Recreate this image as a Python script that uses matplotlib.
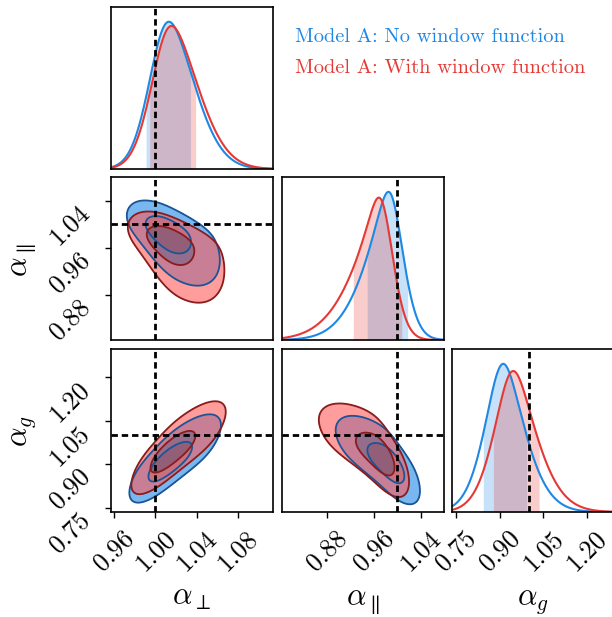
import numpy as np
import matplotlib as mpl
import matplotlib.pyplot as plt

mpl.rcParams['font.family'] = 'serif'
mpl.rcParams['font.serif'] = ['cmr10', 'DejaVu Serif']
mpl.rcParams['mathtext.fontset'] = 'cm'
mpl.rcParams['axes.formatter.use_mathtext'] = True

# parameters, truth and axis layout
labels = [r'$\alpha_\perp$', r'$\alpha_\parallel$', r'$\alpha_g$']
truth = [1.0, 1.0, 1.0]
extents = [(0.957, 1.114), (0.803, 1.080), (0.735, 1.298)]
tick_vals = [[0.96, 1.00, 1.04, 1.08], [0.88, 0.96, 1.04], [0.75, 0.90, 1.05, 1.20]]
tick_text = [['0.96', '1.00', '1.04', '1.08'], ['0.88', '0.96', '1.04'], ['0.75', '0.90', '1.05', '1.20']]

chain_names = ['Model A: No window function', 'Model A: With window function']

# posterior shapes (sinh-arcsinh marginals + latent correlations)
# per parameter: location (peak), scale, skew, tail weight; corr = (perp,par), (perp,g), (par,g)
blue_loc = [1.013, 0.9855, 0.912]
blue_scale = [0.0205, 0.027, 0.059]
blue_skew = [0.18, -0.30, 0.10]
blue_tail = [0.95, 0.85, 0.85]
blue_corr = [-0.60, 0.80, -0.74]
blue_band = [(0.991, 1.034), (0.9486, 1.0179), (0.843, 0.993)]

red_loc = [1.0155, 0.9697, 0.9465]
red_scale = [0.0211, 0.028, 0.062]
red_skew = [0.20, -0.40, 0.12]
red_tail = [0.95, 0.85, 0.85]
red_corr = [-0.56, 0.82, -0.72]
red_band = [(0.9945, 1.039), (0.9248, 1.0077), (0.878, 1.036)]

chains = [
    dict(loc=blue_loc, scale=blue_scale, skew=blue_skew, tail=blue_tail, corr=blue_corr,
         band=blue_band, line='#1E88E5', fill=['#1E88E5', '#1A4F8F'], edge='#1B5597'),
    dict(loc=red_loc, scale=red_scale, skew=red_skew, tail=red_tail, corr=red_corr,
         band=red_band, line='#E53935', fill=['#FF5A5A', '#A83A4A'], edge='#8B1C1C'),
]
pair_index = {(0, 1): 0, (0, 2): 1, (1, 2): 2}


def sas(x, c, k):
    y = (x - c['loc'][k]) / c['scale'][k]
    u = c['tail'][k] * np.arcsinh(y) - c['skew'][k]
    return np.sinh(u), c['tail'][k] * np.cosh(u) / (c['scale'][k] * np.sqrt(1.0 + y ** 2))


def pdf_1d(x, c, k):
    z, dz = sas(x, c, k)
    return np.exp(-0.5 * z ** 2) / np.sqrt(2 * np.pi) * dz


def pdf_2d(xx, yy, c, kx, ky):
    zx, dx = sas(xx, c, kx)
    zy, dy = sas(yy, c, ky)
    rho = c['corr'][pair_index[(kx, ky)]]
    q = (zx ** 2 - 2 * rho * zx * zy + zy ** 2) / (1 - rho ** 2)
    return np.exp(-0.5 * q) * dx * dy


def hpd_levels(dens, fracs):
    flat = np.sort(dens.ravel())[::-1]
    cum = np.cumsum(flat)
    cum /= cum[-1]
    return [flat[np.searchsorted(cum, f)] for f in fracs]


def padded(lim, f=0.4):
    w = lim[1] - lim[0]
    return lim[0] - f * w, lim[1] + f * w


W, H = 612, 617
fig = plt.figure(figsize=(W / 100, H / 100), dpi=100)
col_left = [111, 282, 452]
col_width = [162, 162, 163]
row_top = [7, 177, 349]
row_height = [162, 163, 163]

axes = {}
for i in range(3):
    for j in range(i + 1):
        axes[i, j] = fig.add_axes([col_left[j] / W, 1 - (row_top[i] + row_height[i]) / H,
                                   col_width[j] / W, row_height[i] / H])

dash = (0, (2.3, 1.4))

# 1D marginals
for i in range(3):
    ax = axes[i, i]
    x = np.linspace(*extents[i], 600)
    top = 0
    for c in chains:
        p = pdf_1d(x, c, i)
        ax.plot(x, p, color=c['line'], lw=1.5)
        xb = np.linspace(*c['band'][i], 200)
        ax.fill_between(xb, 0, pdf_1d(xb, c, i), color=c['line'], alpha=0.25, lw=0)
        top = max(top, p.max())
    ax.set_ylim(0, 1.1 * top)
    ax.axvline(truth[i], color='k', lw=2, ls=dash)

# 2D contours
for i in range(1, 3):
    for j in range(i):
        ax = axes[i, j]
        gx = np.linspace(*padded(extents[j]), 350)
        gy = np.linspace(*padded(extents[i]), 350)
        X, Y = np.meshgrid(gx, gy)
        for c in chains:
            D = pdf_2d(X, Y, c, j, i)
            lv = hpd_levels(D, [1 - np.exp(-2), 1 - np.exp(-0.5)])
            ax.contourf(X, Y, D, levels=[lv[0], lv[1], D.max() * 1.01], colors=c['fill'], alpha=0.6)
            ax.contour(X, Y, D, levels=lv, colors=c['edge'], linewidths=1.3)
        ax.axvline(truth[j], color='k', lw=2, ls=dash)
        ax.axhline(truth[i], color='k', lw=2, ls=dash)
        ax.set_ylim(extents[i])

for (i, j), ax in axes.items():
    ax.set_xlim(extents[j])
    if i == 2:
        ax.set_xticks(tick_vals[j])
        ax.set_xticklabels(tick_text[j], rotation=45)
    else:
        ax.set_xticks([])
    if j == 0 and i > 0:
        ax.set_yticks(tick_vals[i])
        ax.set_yticklabels(tick_text[i], rotation=45, va='top')
    else:
        ax.set_yticks([])
    ax.tick_params(direction='out', length=4, width=1, labelsize=18.5)
    ax.tick_params(axis='x', pad=6)
    ax.tick_params(axis='y', pad=8)
    for s in ax.spines.values():
        s.set_linewidth(1.2)

# axis labels
for j in range(3):
    fig.text((col_left[j] + 81) / W, 1 - 605 / H, labels[j], fontsize=22, ha='center', va='baseline')
fig.text(24 / W, 1 - 260 / H, labels[1], fontsize=22, rotation=90, ha='center', va='center')
fig.text(24 / W, 1 - 431 / H, labels[2], fontsize=22, rotation=90, ha='center', va='center')

# legend as coloured text
fig.text(295 / W, 1 - 42 / H, chain_names[0], color=chains[0]['line'], fontsize=14.7, va='baseline')
fig.text(295 / W, 1 - 73 / H, chain_names[1], color=chains[1]['line'], fontsize=14.7, va='baseline')

fig.savefig('out.png', dpi=100)
